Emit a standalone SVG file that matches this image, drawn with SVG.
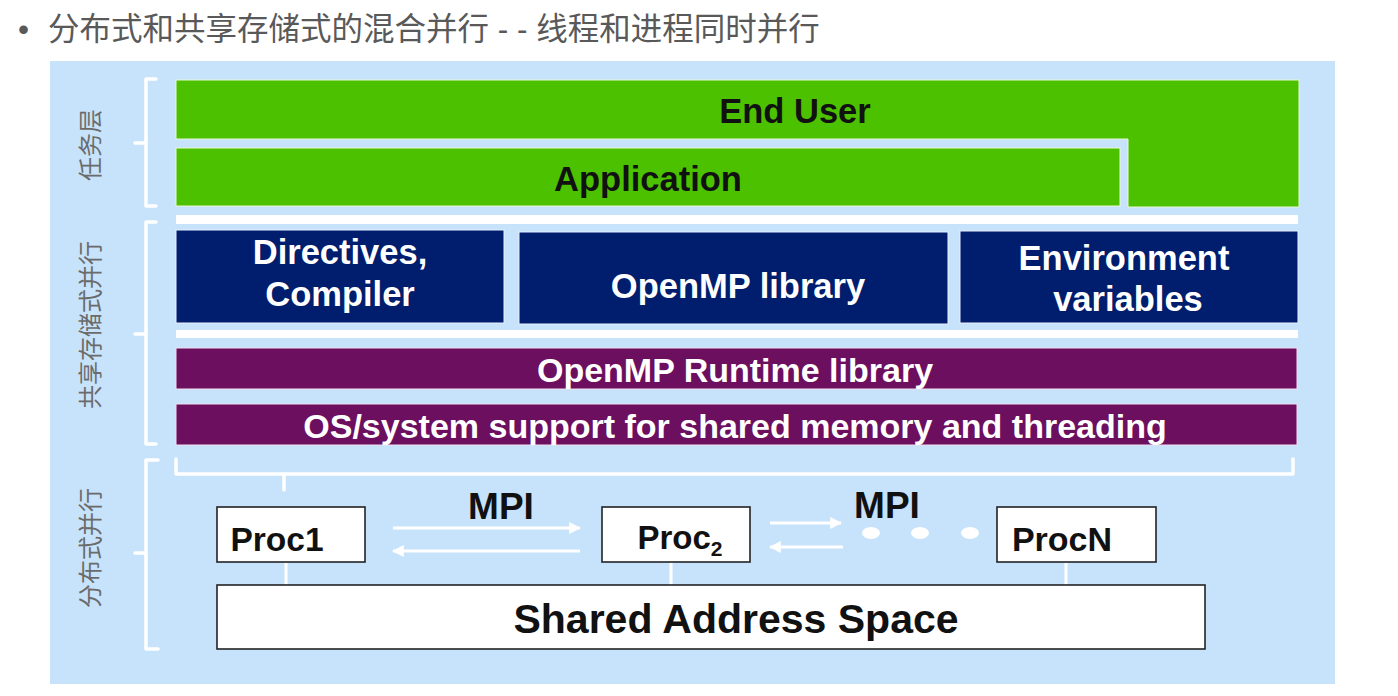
<svg xmlns="http://www.w3.org/2000/svg" width="1398" height="696" viewBox="0 0 1398 696">
<style>
.title{font-family:"Liberation Sans","Noto Sans CJK SC",sans-serif;font-size:31.5px;fill:#595959}
.side{font-family:"Liberation Sans","Noto Sans CJK SC",sans-serif;font-size:24px;fill:#6b6b6b}
.lbl{font-family:"Liberation Sans",Arial,sans-serif;font-weight:bold;text-anchor:middle}
.dark{fill:#111}
.light{fill:#ffffff}
.green{fill:#4cc100;stroke:#e8f7d8;stroke-width:1}
.navy{fill:#001d6e;stroke:#e8f0ff;stroke-width:1}
.purple{fill:#6c0f5f;stroke:#f0e0f0;stroke-width:1}
.proc{fill:#ffffff;stroke:#222;stroke-width:1.6}
.br{fill:none;stroke:#ffffff;stroke-width:3.5;stroke-linejoin:round;stroke-linecap:round}
.wl{stroke:#ffffff;stroke-width:3}
</style>
<defs>
<marker id="ah" viewBox="0 0 10 10" refX="9" refY="5" markerWidth="4" markerHeight="4" orient="auto-start-reverse" markerUnits="strokeWidth">
<path d="M0,0 L10,5 L0,10 z" fill="#ffffff"/>
</marker>
</defs>
<rect width="1398" height="696" fill="#ffffff"/>
<text class="title" x="18" y="40">•</text>
<text class="title" x="48" y="40">分布式和共享存储式的混合并行 - - 线程和进程同时并行</text>
<rect x="50" y="61" width="1285" height="623" fill="#c6e3fb"/>

<g id="brackets">
<path class="br" d="M156,79 H146 V206 H156 M146,143 H135"/>
<path class="br" d="M156,222 H146 V444 H156 M146,334 H135"/>
<path class="br" d="M158,460 H146 V649 H158 M146,553 H135"/>
<path class="br" d="M176,459 V474 H1293 V459 M284,474 V490"/>
</g>

<g id="side-labels">
<text class="side" transform="translate(99,145) rotate(-90)" text-anchor="middle">任务层</text>
<text class="side" transform="translate(99,325) rotate(-90)" text-anchor="middle">共享存储式并行</text>
<text class="side" transform="translate(99,548) rotate(-90)" text-anchor="middle">分布式并行</text>
</g>

<g id="end-user">
<path class="green" d="M176,80 H1299 V207 H1128 V139 H176 Z"/>
<text class="lbl dark" x="795" y="123" font-size="34.5">End User</text>
</g>
<g id="application">
<rect class="green" x="176" y="148" width="944" height="58"/>
<text class="lbl dark" x="648" y="191" font-size="34.5">Application</text>
</g>
<rect x="176" y="215" width="1122" height="9" fill="#ffffff"/>

<g id="directives">
<rect class="navy" x="176" y="230" width="328" height="93"/>
<text class="lbl light" x="340" y="264" font-size="34.5">Directives,</text>
<text class="lbl light" x="340" y="306" font-size="34.5">Compiler</text>
</g>
<g id="openmp-library">
<rect class="navy" x="519" y="232" width="429" height="92"/>
<text class="lbl light" x="738" y="298" font-size="34.5">OpenMP library</text>
</g>
<g id="env-vars">
<rect class="navy" x="960" y="231" width="338" height="92"/>
<text class="lbl light" x="1124" y="270" font-size="34.5">Environment</text>
<text class="lbl light" x="1128" y="311" font-size="34.5">variables</text>
</g>
<rect x="176" y="330" width="1122" height="8" fill="#ffffff"/>

<g id="runtime">
<rect class="purple" x="176" y="348" width="1121" height="41"/>
<text class="lbl light" x="735" y="382" font-size="34">OpenMP Runtime library</text>
</g>
<g id="os-support">
<rect class="purple" x="176" y="404" width="1121" height="41"/>
<text class="lbl light" x="735" y="438" font-size="34">OS/system support for shared memory and threading</text>
</g>

<g id="connectors">
<line class="wl" x1="286" y1="562" x2="286" y2="585"/>
<line class="wl" x1="671" y1="562" x2="671" y2="585"/>
<line class="wl" x1="1066" y1="562" x2="1066" y2="585"/>
<line class="wl" x1="393" y1="528" x2="580" y2="528" marker-end="url(#ah)"/>
<line class="wl" x1="580" y1="551" x2="393" y2="551" marker-end="url(#ah)"/>
<line class="wl" x1="770" y1="523" x2="841" y2="523" marker-end="url(#ah)"/>
<line class="wl" x1="843" y1="547" x2="770" y2="547" marker-end="url(#ah)"/>
<text class="lbl dark" x="501" y="519" font-size="37">MPI</text>
<text class="lbl dark" x="887" y="518" font-size="37">MPI</text>
<ellipse cx="871" cy="533" rx="9" ry="6" fill="#ffffff"/>
<ellipse cx="920" cy="533" rx="9" ry="6" fill="#ffffff"/>
<ellipse cx="970" cy="533" rx="9" ry="6" fill="#ffffff"/>
</g>

<g id="proc1">
<rect class="proc" x="217" y="507" width="148" height="55"/>
<text class="lbl dark" x="277" y="551" font-size="33.5">Proc1</text>
</g>
<g id="proc2">
<rect class="proc" x="602" y="507" width="148" height="55"/>
<text class="lbl dark" x="680" y="549" font-size="33">Proc<tspan font-size="21" dy="7">2</tspan></text>
</g>
<g id="procN">
<rect class="proc" x="997" y="507" width="159" height="55"/>
<text class="lbl dark" x="1062" y="551" font-size="34">ProcN</text>
</g>
<g id="shared-address-space">
<rect class="proc" x="217" y="585" width="988" height="64"/>
<text class="lbl dark" x="736" y="633" font-size="41">Shared Address Space</text>
</g>
</svg>
